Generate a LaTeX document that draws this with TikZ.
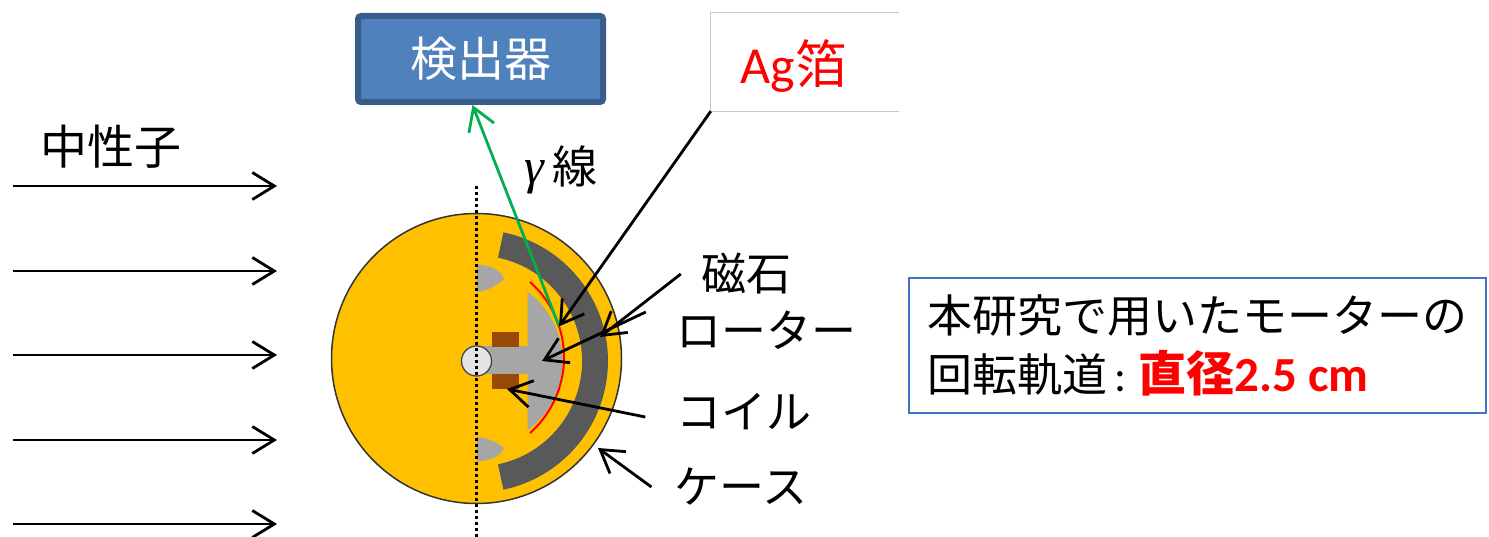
\documentclass[tikz,border=0pt]{standalone}
\usepackage{fontspec}
\setmainfont{Carlito}
\newfontfamily\jp{Noto Sans CJK JP}
\newfontfamily\grk{Liberation Serif}
\usetikzlibrary{arrows.meta,calc}

\definecolor{caseyellow}{HTML}{FFC000}
\definecolor{magnetgray}{HTML}{595959}
\definecolor{magnetedge}{HTML}{4D5966}
\definecolor{rotorgray}{HTML}{A6A6A6}
\definecolor{coilbrown}{HTML}{984807}
\definecolor{hubgray}{HTML}{E4E4E4}
\definecolor{detfill}{HTML}{4F81BD}
\definecolor{detedge}{HTML}{385D8A}
\definecolor{gammagreen}{HTML}{00B050}
\definecolor{boxblue}{HTML}{4472C4}
\definecolor{foilred}{HTML}{FF0000}
\definecolor{framegray}{HTML}{C8C8C8}

\tikzset{
  ptr/.style={line width=2.8pt, -{Straight Barb[length=22pt,width=27pt]}},
  lbl/.style={font=\jp\fontsize{45}{45}\selectfont, inner sep=2pt},
  detector/.style={draw=detedge, fill=detfill, line width=6pt, rounded corners=3pt,
    minimum width=245pt, minimum height=86pt, inner sep=0pt, text=white,
    font=\jp\fontsize{47}{47}\selectfont},
  infobox/.style={draw=boxblue, line width=2pt, minimum width=577pt, minimum height=135pt,
    align=left, inner sep=0pt, font=\jp\fontsize{45}{59}\selectfont},
}

\begin{document}
\begin{tikzpicture}[x=1pt, y=-1pt]
\useasboundingbox (0,0) rectangle (1489,537);

% incoming neutron beam
\node[lbl, font=\jp\fontsize{47}{47}\selectfont] (neutron) at (111,147) {中性子};
\foreach \yy/\nm in {186/n1, 271/n2, 355/n3, 440/n4, 524/n5} {
  \coordinate (\nm s) at (13,\yy);
  \coordinate (\nm e) at (277,\yy);
  \draw[ptr] (\nm s) -- (\nm e);
}

% motor case
\coordinate (c) at (476.5,361);
\node[circle, draw=black!80, line width=1.5pt, fill=caseyellow, minimum size=290pt, inner sep=0pt]
  (case) at (476.5,358.5) {};

% light gray pieces on the axis
\fill[rotorgray] (477,265) .. controls (492,265) and (501,271) .. (504,279)
  .. controls (496,286) and (487,291) .. (477,292) -- cycle;
\fill[rotorgray] (477,437) .. controls (487,438) and (496,441) .. (504,448)
  .. controls (501,455) and (492,461) .. (477,461) -- cycle;

% magnet ring
\draw[fill=magnetgray, draw=magnetedge, line width=0.8pt]
  ($(c)+(-78:131)$) arc[start angle=-78, end angle=78, radius=131]
  -- ($(c)+(78:106)$) arc[start angle=78, end angle=-78, radius=106] -- cycle;

% rotor with shaft
\fill[rotorgray] ($(c)+(-53.6:86)$) arc[start angle=-53.6, end angle=53.6, radius=86] -- cycle;
\fill[rotorgray] (477,346) rectangle (528,374);

% coils
\fill[coilbrown] (492,332) rectangle (519,347);
\fill[coilbrown] (492,374) rectangle (519,389);

% hub
\node[circle, draw=black!75, line width=1.2pt, fill=hubgray, minimum size=30pt, inner sep=0pt]
  (hub) at (c) {};

% silver foil on the rotor
\draw[foilred, line width=2pt] ($(463,357.5)+(-48.4:101)$) arc[start angle=-48.4, end angle=48.4, radius=101];
\coordinate (foil) at ($(463,357.5)+(-18:101)$);

% rotation axis
\coordinate (axtop) at (476.5,186);
\coordinate (axbot) at (476.5,537);
\draw[line width=3pt, dash pattern=on 3pt off 3pt] (axtop) -- (axbot);

% detector and gamma ray
\node[detector] (det) at (480.5,59) {検出器};
\draw[ptr, gammagreen] (foil) -- ([xshift=-8pt]det.south);
\node[lbl, anchor=center] (gam) at (561,170) {{\grk\itshape\fontsize{50}{50}\selectfont γ}\kern9pt 線};

% Ag foil label
\node[minimum width=188pt, minimum height=98pt, inner sep=0pt] (agbox) at (805,62) {};
\draw[framegray, line width=1.2pt] (agbox.north east) -- (agbox.north west)
  -- (agbox.south west) -- (agbox.south east);
\node[inner sep=0pt, text=foilred, font=\fontsize{52}{52}\selectfont] (ag) at (794,66) {Ag{\jp 箔}};
\draw[ptr] (agbox.south west) -- (foil);

% part labels
\node[lbl] (mag) at (746,274) {磁石};
\node[lbl] (rot) at (766,330) {ローター};
\node[lbl] (coil) at (744,412) {コイル};
\node[lbl] (cas) at (741,487) {ケース};

\coordinate (magT) at (600,337);
\coordinate (rotT) at (542,361);
\coordinate (coilT) at (507,389);
\coordinate (casT) at (598,448);
\draw[ptr] ([xshift=-18pt]mag.west) -- (magT);
\draw[ptr] ([xshift=-28pt,yshift=18pt]rot.west) -- (rotT);
\draw[ptr] ([xshift=-29pt,yshift=-5pt]coil.west) -- (coilT);
\draw[ptr] ([xshift=-21pt]cas.west) -- (casT);

% note box
\node[infobox] (info) at (1197,345.5)
  {本研究で用いたモーターの\\回転軌道{\rmfamily\,:\kern12pt}\textcolor{foilred}{{\fontsize{48}{59}\selectfont\bfseries 直径}{\rmfamily\bfseries\fontsize{49}{59}\selectfont 2.5 cm}}};
\end{tikzpicture}
\end{document}
